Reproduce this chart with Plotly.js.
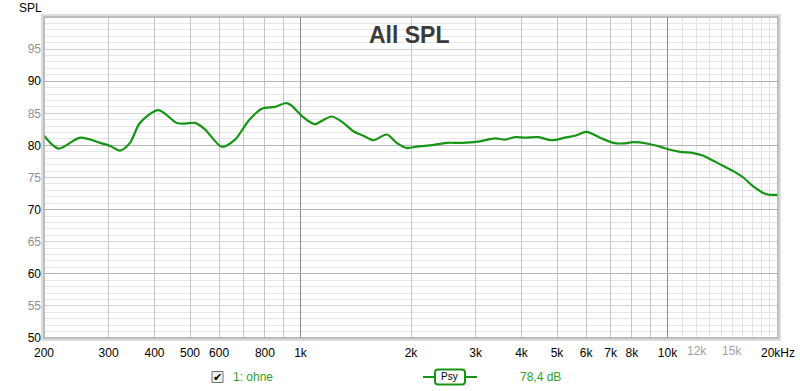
<!DOCTYPE html>
<html>
<head>
<meta charset="utf-8">
<script src="https://cdn.plot.ly/plotly-3.0.1.min.js"></script>
<style>html,body{margin:0;padding:0;background:#fff;}#chart{width:800px;height:391px;}</style>
</head>
<body>
<div id="chart"></div>
<script>
// ---- data ----
const freqHz = [200, 219, 251, 284, 303, 322, 343, 365, 410, 460, 485, 516, 549, 610, 663, 721, 784, 852, 917, 946, 1007, 1072, 1095, 1216, 1308, 1393, 1483, 1579, 1718, 1829, 1947, 2073, 2254, 2502, 2750, 3052, 3388, 3608, 3841, 4090, 4446, 4836, 5256, 5598, 6022, 6546, 7116, 7578, 8069, 8774, 9542, 10050, 10816, 11758, 12518, 13328, 14192, 15108, 16088, 17128, 18238, 19020, 20000];
const splDb = [81.5, 79.5, 81.2, 80.4, 79.9, 79.2, 80.4, 83.5, 85.5, 83.5, 83.4, 83.5, 82.5, 79.8, 80.9, 83.8, 85.7, 86.0, 86.6, 86.2, 84.6, 83.5, 83.3, 84.5, 83.5, 82.2, 81.5, 80.8, 81.7, 80.4, 79.6, 79.8, 80.0, 80.4, 80.4, 80.6, 81.1, 80.9, 81.3, 81.2, 81.3, 80.8, 81.2, 81.5, 82.1, 81.2, 80.4, 80.3, 80.5, 80.3, 79.8, 79.4, 79.0, 78.8, 78.4, 77.6, 76.8, 76.0, 75.0, 73.6, 72.6, 72.3, 72.3];
const xGridVals = [200,300,400,500,600,700,800,900,1000,2000,3000,4000,5000,6000,7000,8000,9000,10000,20000];
const xTickText = ['200','300','400','500','600','','800','','1k','2k','3k','4k','5k','6k','7k','8k','','10k','20kHz'];
const xFineVals = [11000,12000,13000,14000,15000,16000,17000,18000,19000];
const xGreyLabelVals = [12000, 15000];
const xGreyLabelText = ['12k', '15k'];
const yTickVals = [50,55,60,65,70,75,80,85,90,95];
const yTickText = ['50','<span style="color:#909090">55</span>','60','<span style="color:#909090">65</span>','70','<span style="color:#909090">75</span>','80','<span style="color:#909090">85</span>','90','<span style="color:#909090">95</span>'];
const seriesName = '1: ohne';
const avgText = '78,4 dB';

// helpers for pixel -> paper
const L=44, R=778, T=17, B=338;
const px = v => (v-L)/(R-L);
const py = v => (B-v)/(B-T);

const green = '#169416';
const xr = [Math.log10(200), Math.log10(20000)];

const traces = [
  {x: freqHz, y: splDb, type:'scatter', mode:'lines', line:{color:green, width:2.2, shape:'spline', smoothing:0.8}, xaxis:'x', yaxis:'y', hoverinfo:'skip', showlegend:false},
  {x:[200], y:[50], type:'scatter', mode:'markers', marker:{opacity:0}, xaxis:'x2', yaxis:'y2', hoverinfo:'skip', showlegend:false},
];

const LY = 377; // legend row
const annotations = [
  {text:'SPL', xref:'paper', yref:'paper', x:px(17), y:py(8), xanchor:'left', yanchor:'middle', showarrow:false, font:{size:12, color:'#000'}},
  {text:'All SPL', xref:'paper', yref:'paper', x:px(409), y:py(35), xanchor:'center', yanchor:'middle', showarrow:false, font:{size:23, color:'#3a3a3a', family:'Liberation Sans, Arial, sans-serif', weight:'bold'}},
  {text:'✔', xref:'paper', yref:'paper', x:px(217.5), y:py(LY), xanchor:'center', yanchor:'middle', showarrow:false, font:{size:11, color:'#000'}},
  {text:seriesName, xref:'paper', yref:'paper', x:px(231), y:py(LY), xanchor:'left', yanchor:'middle', showarrow:false, font:{size:12, color:'#2e9e2e'}},
  {text:'Psy', xref:'paper', yref:'paper', x:px(450), y:py(LY), xanchor:'center', yanchor:'middle', showarrow:false, font:{size:10, color:'#000'}},
  {text:avgText, xref:'paper', yref:'paper', x:px(518), y:py(LY), xanchor:'left', yanchor:'middle', showarrow:false, font:{size:12, color:'#2e9e2e'}}
];
xGreyLabelVals.forEach((v,i)=>annotations.push({text:xGreyLabelText[i], xref:'x', yref:'paper', x:Math.log10(v), y:py(351), xanchor:'center', yanchor:'middle', showarrow:false, font:{size:12, color:'#a0a0a0'}}));

const layout = {
  width:800, height:391,
  margin:{l:L, r:800-R, t:T, b:391-B},
  paper_bgcolor:'#fff', plot_bgcolor:'#fff',
  font:{family:'Liberation Sans, Arial, sans-serif', size:12, color:'#000'},
  showlegend:false,
  xaxis:{
    type:'log', range:xr, tickmode:'array', tickvals:xGridVals, ticktext:xTickText,
    showgrid:true, gridcolor:'#c4c4c4', gridwidth:1, ticks:'', ticklen:0, ticklabelstandoff:6,
    showline:false, zeroline:false, tickfont:{size:12, color:'#000'},
    minor:{tickmode:'array', tickvals:xFineVals, showgrid:true, gridcolor:'#e2e2e2', gridwidth:1, ticks:''},
    fixedrange:true
  },
  yaxis:{
    range:[50,100], tickmode:'array', tickvals:yTickVals, ticktext:yTickText,
    showgrid:true, gridcolor:'#d2d2d2', gridwidth:1, ticks:'', zeroline:false, showline:false,
    tickfont:{size:12, color:'#000'}, ticklabelstandoff:2,
    minor:{dtick:1, showgrid:true, gridcolor:'#e6e6e6', gridwidth:1, ticks:''},
    fixedrange:true
  },
  xaxis2:{
    type:'log', range:xr, overlaying:'x', tickmode:'array', tickvals:[1000,10000],
    showticklabels:false, showgrid:true, gridcolor:'#8a8a8a', gridwidth:1, ticks:'', zeroline:false, showline:false, fixedrange:true
  },
  yaxis2:{
    range:[50,100], overlaying:'y', tickmode:'array', tickvals:[60,70,80,90],
    showticklabels:false, showgrid:true, gridcolor:'#b4b4b4', gridwidth:1, ticks:'', zeroline:false, showline:false, fixedrange:true
  },
  shapes:[
    {type:'rect', xref:'paper', yref:'paper', x0:px(L-2), x1:px(R+2), y0:py(B+2), y1:py(T-2), line:{color:'#dcdcdc', width:2}, layer:'above'},
    {type:'rect', xref:'paper', yref:'paper', x0:0, x1:1, y0:0, y1:1, line:{color:'#a8a8a8', width:1.5}, layer:'above'},
    {type:'rect', xref:'paper', yref:'paper', x0:px(212), x1:px(223), y0:py(382.5), y1:py(371.5), line:{color:'#707070', width:1}, fillcolor:'#f0f0f0'},
    {type:'line', xref:'paper', yref:'paper', x0:px(423), x1:px(435), y0:py(LY), y1:py(LY), line:{color:green, width:2}},
    {type:'line', xref:'paper', yref:'paper', x0:px(465), x1:px(477), y0:py(LY), y1:py(LY), line:{color:green, width:2}},
    {type:'path', xref:'paper', yref:'paper',
     path:'M '+px(438)+','+py(369.5)+' L '+px(462)+','+py(369.5)+' Q '+px(465)+','+py(369.5)+' '+px(465)+','+py(372.5)+' L '+px(465)+','+py(381.5)+' Q '+px(465)+','+py(384.5)+' '+px(462)+','+py(384.5)+' L '+px(438)+','+py(384.5)+' Q '+px(435)+','+py(384.5)+' '+px(435)+','+py(381.5)+' L '+px(435)+','+py(372.5)+' Q '+px(435)+','+py(369.5)+' '+px(438)+','+py(369.5)+' Z',
     line:{color:green, width:2}, fillcolor:'#fff'}
  ],
  annotations: annotations
};

Plotly.newPlot('chart', traces, layout, {staticPlot:true, displayModeBar:false});
</script>
</body>
</html>
